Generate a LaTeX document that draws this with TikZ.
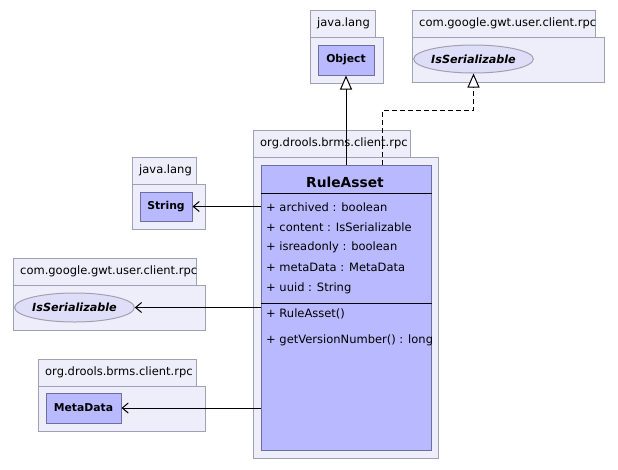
\documentclass[tikz,border=0pt]{standalone}
\usepackage{fontspec}
\setmainfont{DejaVu Sans}
\usetikzlibrary{arrows.meta,shapes.geometric}
\definecolor{pkgfill}{RGB}{238,238,250}
\definecolor{pkgline}{RGB}{160,160,178}
\definecolor{clsfill}{RGB}{185,185,255}
\definecolor{clsline}{RGB}{110,110,160}
\definecolor{ifill}{RGB}{222,222,248}

\begin{document}
\begin{tikzpicture}[x=1pt,y=-1pt,font=\fontsize{11.5}{13}\selectfont,
   pkg/.style={draw=pkgline,fill=pkgfill,line width=1pt},
   tab/.style={anchor=west,inner sep=0pt},
   cls/.style={draw=clsline,fill=clsfill,line width=1pt,inner sep=0pt,font=\fontsize{10.8}{12}\selectfont\bfseries},
   iface/.style={ellipse,draw=pkgline,fill=ifill,line width=1pt,inner sep=0pt,font=\fontsize{11.2}{12}\selectfont\bfseries\itshape},
   member/.style={anchor=west,inner sep=0pt},
   assoc/.style={line width=1pt,-{Straight Barb[length=6pt,width=10pt]}},
   inherit/.style={line width=1pt,-{Triangle[open,length=14pt,width=12pt,fill=white]}},
   realize/.style={inherit,dash pattern=on 5pt off 3pt}]
   \useasboundingbox (0,0) rectangle (618,469);
   % packages
   \draw[pkg] (310,10) rectangle (375,37);
   \draw[pkg] (310,37) rectangle (383,83);
   \draw (317,23.5) node[tab] {java.lang};
   \draw[pkg] (412,10) rectangle (595,37);
   \draw[pkg] (412,37) rectangle (604,82);
   \draw (419,23.5) node[tab] {com.google.gwt.user.client.rpc};
   \draw[pkg] (253,130) rectangle (410,157);
   \draw[pkg] (253,157) rectangle (438,458);
   \draw (260,143.5) node[tab] {org.drools.brms.client.rpc};
   \draw[pkg] (132,157) rectangle (196,184);
   \draw[pkg] (132,184) rectangle (205,229);
   \draw (139,170.5) node[tab] {java.lang};
   \draw[pkg] (13,258) rectangle (196,285);
   \draw[pkg] (13,285) rectangle (205,330);
   \draw (20,271.5) node[tab] {com.google.gwt.user.client.rpc};
   \draw[pkg] (38,359) rectangle (196,386);
   \draw[pkg] (38,386) rectangle (205,431);
   \draw (45,372.5) node[tab] {org.drools.brms.client.rpc};
   % classes
   \node[cls,minimum width=56,minimum height=30] (object) at (346,60) {Object};
   \node[iface,minimum width=107,minimum height=28] (ser) at (473.5,59) {IsSerializable};
   \node[cls,minimum width=52,minimum height=29] (string) at (166,206.5) {String};
   \node[iface,minimum width=107,minimum height=29] (serleft) at (74.5,307.5) {IsSerializable};
   \node[cls,minimum width=75,minimum height=30] (meta) at (83.5,408) {MetaData};
   \node[cls,minimum width=170,minimum height=285] (asset) at (346,307.5) {};
   \node at (345,182) {\fontsize{13.8}{15}\selectfont\bfseries RuleAsset};
   \draw (asset.west |- 0,193) -- (asset.east |- 0,193);
   \draw (asset.west |- 0,303) -- (asset.east |- 0,303);
   \foreach \m [count=\i from 0] in {+ archived : boolean,+ content : IsSerializable,
      + isreadonly : boolean,+ metaData : MetaData,+ uuid : String}
      \node[member] at (266,207+20.25*\i) {\m};
   \node[member] at (266,314) {+ RuleAsset()};
   \node[member] at (266,340) {+ getVersionNumber() : long};
   % relations
   \coordinate (kink) at (382,110);
   \draw[inherit] (object |- asset.north) -- (object);
   \draw[realize] (kink |- asset.north) -- (kink) -| (ser);
   \draw[assoc] (asset.west |- string) -- (string);
   \draw[assoc] (asset.west |- serleft) -- (serleft);
   \draw[assoc] (asset.west |- meta) -- (meta);
\end{tikzpicture}
\end{document}
